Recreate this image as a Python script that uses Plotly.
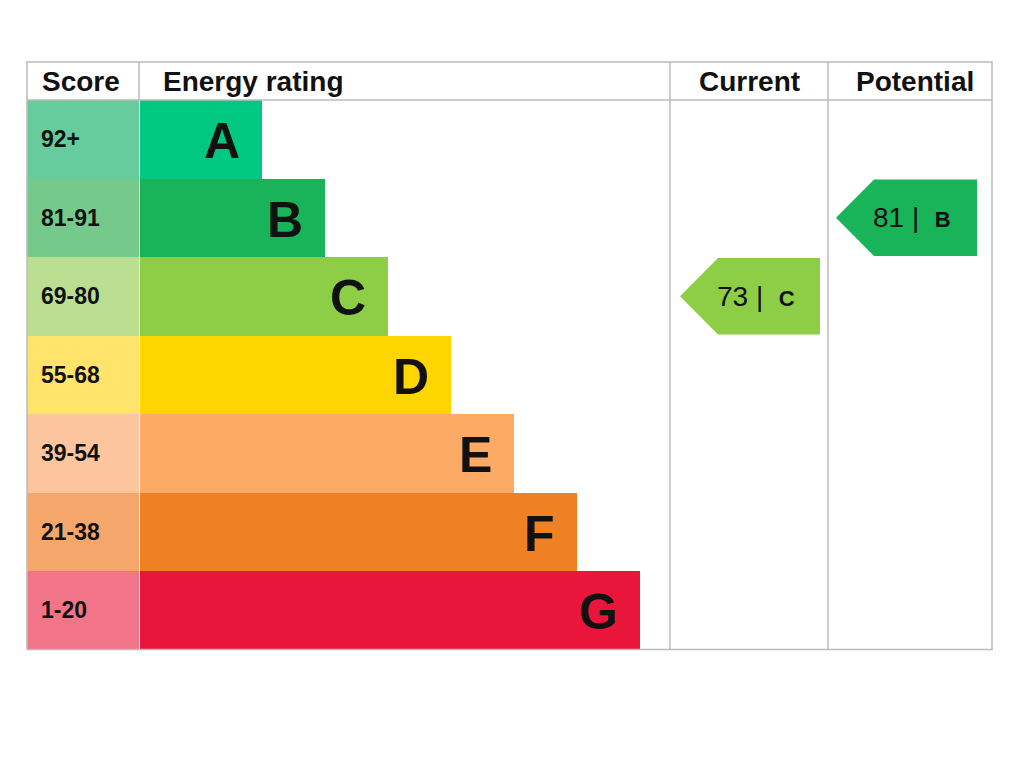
import plotly.graph_objects as go

bands = ["A", "B", "C", "D", "E", "F", "G"]
scores = ["92+", "81-91", "69-80", "55-68", "39-54", "21-38", "1-20"]
bar_colors = ["#00c781", "#19b459", "#8dce46", "#ffd500", "#fcaa65", "#ef8023", "#e9153b"]
score_colors = ["#66cc9e", "#75c98b", "#badf91", "#ffe36a", "#fdc59d", "#f4a66b", "#f27489"]
current_value, current_band = 73, "C"
potential_value, potential_band = 81, "B"

# layout in pixel space
TOP, HEAD, ROW = 62, 100, 78.5
X0, XS, XB, XC, XP, XE = 27, 139, 140, 670, 828, 992
BAR0, BARSTEP = 122, 63
FONT = "Liberation Sans"
OFF = 8  # page margin compensation

def yc(i):
    return HEAD + ROW * (i + 0.5)

fig = go.Figure()
fig.add_trace(go.Bar(orientation="h", y=[yc(i) for i in range(7)], x=[XS - X0] * 7, base=X0,
                     width=ROW, marker=dict(color=score_colors, line=dict(width=0)), hoverinfo="skip"))
fig.add_trace(go.Bar(orientation="h", y=[yc(i) for i in range(7)],
                     x=[BAR0 + BARSTEP * i for i in range(7)], base=XB,
                     width=ROW, marker=dict(color=bar_colors, line=dict(width=0)), hoverinfo="skip"))

ann = []
for i, (b, s) in enumerate(zip(bands, scores)):
    ann.append(dict(x=XB + BAR0 + BARSTEP * i - 20, y=yc(i) + 2, text=f"<b>{b}</b>", xanchor="right", showarrow=False,
                    font=dict(family=FONT, size=50, color="#111"), yanchor="middle"))
    ann.append(dict(x=39, y=yc(i), text=f"<b>{s}</b>", xanchor="left", showarrow=False,
                    font=dict(family=FONT, size=23, color="#111")))

def arrow(value, band, x_left, x_right, label_x):
    i = bands.index(band)
    t, bt, m = HEAD + ROW * i + 1, HEAD + ROW * (i + 1) - 1, yc(i)
    tip = x_left + 38
    fig.add_trace(go.Scatter(x=[x_left, tip, x_right, x_right, tip, x_left],
                             y=[m, t, t, bt, bt, m], fill="toself", mode="lines",
                             fillcolor=bar_colors[i], line=dict(width=0), hoverinfo="skip"))
    ann.append(dict(x=label_x, y=m, text=f"{value} |  <b><span style='font-size:22px'>{band}</span></b>",
                    showarrow=False, xanchor="center",
                    font=dict(family=FONT, size=28, color="#111")))

arrow(current_value, current_band, 680, 820, 756)
arrow(potential_value, potential_band, 836, 977, 912)

for x, t, anc in [(40, "Score", "left"), (161, "Energy rating", "left"), (749, "Current", "center"), (915, "Potential", "center")]:
    ann.append(dict(x=x, y=81, text=f"<b>{t}</b>", xanchor=anc, showarrow=False,
                    font=dict(family=FONT, size=28, color="#111")))

BOTTOM = HEAD + ROW * 7
lc = "#bbbbbb"
shapes = [dict(type="rect", x0=X0, x1=XE, y0=TOP, y1=BOTTOM, line=dict(color=lc, width=1.5), layer="above"),
          dict(type="line", x0=X0, x1=XE, y0=HEAD, y1=HEAD, line=dict(color=lc, width=1.5)),
          dict(type="line", x0=XS, x1=XS, y0=TOP, y1=HEAD, line=dict(color=lc, width=1.5)),
          dict(type="line", x0=XC, x1=XC, y0=TOP, y1=BOTTOM, line=dict(color=lc, width=1.5)),
          dict(type="line", x0=XP, x1=XP, y0=TOP, y1=BOTTOM, line=dict(color=lc, width=1.5))]

fig.update_layout(width=1024, height=768, margin=dict(l=0, r=0, t=0, b=0), showlegend=False,
                  plot_bgcolor="white", paper_bgcolor="white", annotations=ann, shapes=shapes,
                  bargap=0, barmode="overlay",
                  xaxis=dict(range=[OFF, 1024 + OFF], visible=False, fixedrange=True),
                  yaxis=dict(range=[768 + OFF, OFF], visible=False, fixedrange=True))
fig.write_html("out.html", config={"displayModeBar": False})
